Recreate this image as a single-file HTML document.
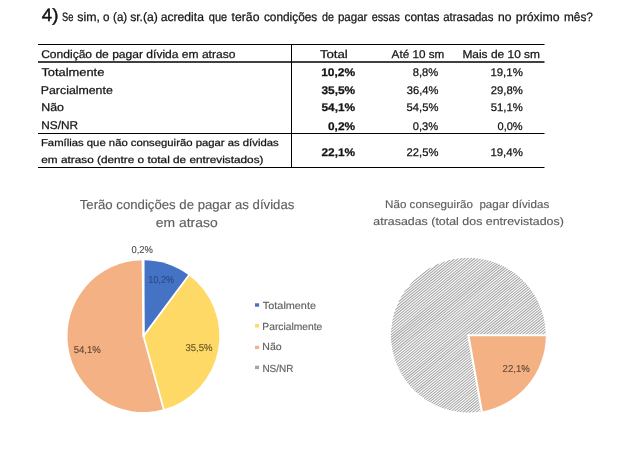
<!DOCTYPE html>
<html><head><meta charset="utf-8"><title>Pesquisa</title>
<style>
html,body{margin:0;padding:0;background:#fff;}
body{width:620px;height:458px;position:relative;overflow:hidden;font-family:"Liberation Sans",sans-serif;}
.t{position:absolute;left:0;top:0;white-space:pre;line-height:1;transform-origin:0 0;text-rendering:geometricPrecision;font-family:"Liberation Sans",sans-serif;-webkit-text-stroke-color:currentColor;}
svg{position:absolute;left:0;top:0;}
.txt{position:absolute;left:0;top:0;width:620px;height:458px;will-change:transform;}
</style></head><body>
<svg width="620" height="458" viewBox="0 0 620 458">

<line x1="38" y1="44.5" x2="544.5" y2="44.5" stroke="#000" stroke-width="1"/>
<line x1="38" y1="62.0" x2="544.5" y2="62.0" stroke="#000" stroke-width="1.5"/>
<line x1="38" y1="133.5" x2="544.5" y2="133.5" stroke="#000" stroke-width="1"/>
<line x1="38" y1="167.5" x2="544.5" y2="167.5" stroke="#000" stroke-width="1"/>
<line x1="291.5" y1="44" x2="291.5" y2="168" stroke="#000" stroke-width="1"/>

<path d="M143.45,336.10 L143.45,260.15 A75.95,75.95 0 0 1 188.86,275.22 Z" fill="#4472C4"/><path d="M143.45,336.10 L188.86,275.22 A75.95,75.95 0 0 1 163.72,409.29 Z" fill="#FFD966"/><path d="M143.45,336.10 L163.72,409.29 A75.95,75.95 0 1 1 142.50,260.16 Z" fill="#F4B183"/><path d="M143.45,336.10 L142.50,260.16 A75.95,75.95 0 0 1 143.45,260.15 Z" fill="#A5A5A5"/><line x1="143.55" y1="336.10" x2="143.55" y2="258.65" stroke="#fff" stroke-width="2.0" stroke-linecap="round"/><line x1="143.55" y1="336.10" x2="142.58" y2="258.66" stroke="#fff" stroke-width="2.0" stroke-linecap="round"/><line x1="143.45" y1="336.10" x2="189.76" y2="274.02" stroke="#fff" stroke-width="1.8" stroke-linecap="round"/><line x1="143.45" y1="336.10" x2="164.12" y2="410.74" stroke="#fff" stroke-width="1.8" stroke-linecap="round"/>
<clipPath id="c2"><path d="M468.35,335.20 L481.81,411.52 A77.50,77.50 0 1 1 545.85,335.20 Z"/></clipPath><path clip-path="url(#c2)" d="M409.2,285.1L431.2,267.2M404.0,292.1L439.0,263.5M400.7,297.4L444.9,261.3M398.3,302.0L449.9,259.9M396.5,306.2L454.4,259.0M395.1,310.0L458.4,258.3M393.9,313.6L462.2,257.9M393.0,317.0L465.7,257.7M392.3,320.3L469.0,257.7M391.8,323.4L472.2,257.8M391.4,326.4L475.2,258.0M391.1,329.3L478.1,258.3M390.9,332.1L480.9,258.7M390.9,334.8L483.6,259.2M390.9,337.5L486.1,259.8M391.0,340.0L488.6,260.4M391.2,342.5L491.1,261.1M391.5,345.0L493.4,261.9M391.8,347.4L495.7,262.7M392.2,349.7L497.9,263.5M392.7,352.0L500.0,264.5M393.2,354.2L502.1,265.4M393.8,356.4L504.1,266.5M394.5,358.6L506.1,267.5M395.2,360.7L508.0,268.6M395.9,362.7L509.9,269.8M396.7,364.8L511.7,271.0M397.6,366.7L513.5,272.2M398.5,368.7L515.2,273.5M399.4,370.6L516.9,274.8M400.4,372.4L518.5,276.1M401.4,374.3L520.1,277.5M402.5,376.1L521.6,278.9M403.6,377.8L523.1,280.4M404.8,379.5L524.6,281.9M406.0,381.2L526.0,283.4M407.3,382.9L527.3,284.9M408.5,384.5L528.7,286.5M409.9,386.1L529.9,288.2M411.3,387.6L531.2,289.8M412.7,389.1L532.4,291.5M414.2,390.6L533.5,293.3M415.7,392.0L534.6,295.0M417.2,393.4L535.7,296.8M418.8,394.8L536.7,298.7M420.5,396.1L537.7,300.5M422.2,397.4L538.6,302.5M423.9,398.7L539.5,304.4M425.7,399.9L540.3,306.4M427.5,401.1L541.1,308.4M429.4,402.2L541.8,310.5M431.3,403.3L542.5,312.6M433.3,404.3L543.1,314.8M435.4,405.3L543.7,317.0M437.5,406.3L544.2,319.3M439.7,407.2L544.6,321.6M441.9,408.0L545.0,323.9M444.2,408.8L545.3,326.3M446.6,409.6L545.6,328.8M449.0,410.2L545.8,331.4M451.5,410.9L545.8,334.0M454.2,411.4L545.8,336.6M456.9,411.8L545.7,339.4M459.7,412.2L545.5,342.2M462.6,412.5L545.2,345.2M465.7,412.7L544.8,348.2M468.9,412.7L544.1,351.4M472.3,412.6L543.4,354.7M475.9,412.3L542.4,358.1M479.8,411.8L541.1,361.8M484.0,411.1L539.6,365.8M488.6,410.0L537.5,370.1M493.9,408.4L534.9,374.9M500.3,405.8L531.1,380.7M510.1,400.5L523.9,389.3" stroke="#a5a5a5" stroke-width="1.04" fill="none"/><path d="M468.35,335.20 L545.85,335.20 A77.50,77.50 0 0 1 481.81,411.52 Z" fill="#F4B183"/><path d="M468.35,335.20 L547.85,335.20 A79.50,79.50 0 0 1 482.16,413.49 Z" fill="none" stroke="#fff" stroke-width="2.1" stroke-linejoin="miter"/>
<rect x="255" y="303.3" width="4.1" height="3.4" fill="#4472C4"/><rect x="255" y="324.1" width="4.1" height="3.4" fill="#FFD966"/><rect x="255" y="345.7" width="4.1" height="3.4" fill="#F4B183"/><rect x="255" y="365.7" width="4.1" height="3.4" fill="#A5A5A5"/>
</svg>
<div class="txt">
<span class="t" style="font-size:17.71px;color:#141414;-webkit-text-stroke-width:0.45px;transform:translate(41.78px,6.75px) scaleX(1.0533)">4)</span>
<span class="t" style="font-size:12.21px;color:#141414;-webkit-text-stroke-width:0.25px;transform:translate(62.01px,10.75px) scaleX(0.7590)">Se </span>
<span class="t" style="font-size:12.21px;color:#141414;-webkit-text-stroke-width:0.25px;transform:translate(77.35px,10.75px) scaleX(1.0122)">sim, </span>
<span class="t" style="font-size:12.21px;color:#141414;-webkit-text-stroke-width:0.25px;transform:translate(102.94px,10.75px) scaleX(0.9577)">o </span>
<span class="t" style="font-size:12.21px;color:#141414;-webkit-text-stroke-width:0.25px;transform:translate(113.05px,10.75px) scaleX(0.9468)">(a) </span>
<span class="t" style="font-size:12.21px;color:#141414;-webkit-text-stroke-width:0.25px;transform:translate(130.15px,10.75px) scaleX(0.9978)">sr.(a) </span>
<span class="t" style="font-size:12.21px;color:#141414;-webkit-text-stroke-width:0.25px;transform:translate(160.72px,10.75px) scaleX(0.9946)">acredita </span>
<span class="t" style="font-size:12.21px;color:#141414;-webkit-text-stroke-width:0.25px;transform:translate(208.76px,10.75px) scaleX(0.9036)">que </span>
<span class="t" style="font-size:12.21px;color:#141414;-webkit-text-stroke-width:0.25px;transform:translate(231.57px,10.75px) scaleX(1.0035)">terão </span>
<span class="t" style="font-size:12.21px;color:#141414;-webkit-text-stroke-width:0.25px;transform:translate(263.94px,10.75px) scaleX(0.9696)">condições </span>
<span class="t" style="font-size:12.21px;color:#141414;-webkit-text-stroke-width:0.25px;transform:translate(322.06px,10.75px) scaleX(0.8798)">de </span>
<span class="t" style="font-size:12.21px;color:#141414;-webkit-text-stroke-width:0.25px;transform:translate(337.91px,10.75px) scaleX(0.9446)">pagar </span>
<span class="t" style="font-size:12.21px;color:#141414;-webkit-text-stroke-width:0.25px;transform:translate(371.66px,10.75px) scaleX(0.8868)">essas </span>
<span class="t" style="font-size:12.21px;color:#141414;-webkit-text-stroke-width:0.25px;transform:translate(404.54px,10.75px) scaleX(0.9730)">contas </span>
<span class="t" style="font-size:12.21px;color:#141414;-webkit-text-stroke-width:0.25px;transform:translate(443.23px,10.75px) scaleX(0.9369)">atrasadas </span>
<span class="t" style="font-size:12.21px;color:#141414;-webkit-text-stroke-width:0.25px;transform:translate(497.97px,10.75px) scaleX(0.9944)">no </span>
<span class="t" style="font-size:12.21px;color:#141414;-webkit-text-stroke-width:0.25px;transform:translate(515.78px,10.75px) scaleX(1.0098)">próximo </span>
<span class="t" style="font-size:12.21px;color:#141414;-webkit-text-stroke-width:0.25px;transform:translate(563.99px,10.75px) scaleX(0.9676)">mês?</span>
<span class="t" style="font-size:11.26px;color:#141414;-webkit-text-stroke-width:0.25px;transform:translate(41.15px,49.75px) scaleX(1.0711)">Condição de pagar dívida em atraso</span>
<span class="t" style="font-size:11.26px;color:#141414;-webkit-text-stroke-width:0.25px;transform:translate(41.39px,67.75px) scaleX(1.1443)">Totalmente</span>
<span class="t" style="font-size:11.26px;color:#141414;-webkit-text-stroke-width:0.25px;transform:translate(40.77px,85.75px) scaleX(1.0967)">Parcialmente</span>
<span class="t" style="font-size:11.26px;color:#141414;-webkit-text-stroke-width:0.25px;transform:translate(41.27px,102.75px) scaleX(1.1024)">Não</span>
<span class="t" style="font-size:11.26px;color:#141414;-webkit-text-stroke-width:0.25px;transform:translate(41.30px,120.75px) scaleX(1.0505)">NS/NR</span>
<span class="t" style="font-size:9.88px;color:#141414;-webkit-text-stroke-width:0.25px;transform:translate(40.93px,138.75px) scaleX(1.1456)">Famílias que não conseguirão pagar as dívidas</span>
<span class="t" style="font-size:9.88px;color:#141414;-webkit-text-stroke-width:0.25px;transform:translate(41.28px,155.75px) scaleX(1.1941)">em atraso (dentre o total de entrevistados)</span>
<span class="t" style="font-size:11.26px;color:#141414;-webkit-text-stroke-width:0.25px;transform:translate(319.88px,49.75px) scaleX(1.1747)">Total</span>
<span class="t" style="font-size:11.26px;color:#141414;-webkit-text-stroke-width:0.25px;transform:translate(391.60px,49.75px) scaleX(1.0400)">Até 10 sm</span>
<span class="t" style="font-size:11.26px;color:#141414;-webkit-text-stroke-width:0.25px;transform:translate(462.39px,49.75px) scaleX(1.0610)">Mais de 10 sm</span>
<span class="t" style="font-size:11.07px;font-weight:700;color:#141414;-webkit-text-stroke-width:0.25px;transform:translate(321.17px,67.75px) scaleX(1.0850)">10,2%</span>
<span class="t" style="font-size:11.07px;font-weight:700;color:#141414;-webkit-text-stroke-width:0.25px;transform:translate(321.47px,85.75px) scaleX(1.0753)">35,5%</span>
<span class="t" style="font-size:11.07px;font-weight:700;color:#141414;-webkit-text-stroke-width:0.25px;transform:translate(321.44px,102.75px) scaleX(1.0762)">54,1%</span>
<span class="t" style="font-size:11.07px;font-weight:700;color:#141414;-webkit-text-stroke-width:0.25px;transform:translate(328.00px,121.75px) scaleX(1.0721)">0,2%</span>
<span class="t" style="font-size:11.07px;font-weight:700;color:#141414;-webkit-text-stroke-width:0.25px;transform:translate(321.48px,147.75px) scaleX(1.0748)">22,1%</span>
<span class="t" style="font-size:11.07px;color:#141414;-webkit-text-stroke-width:0.25px;transform:translate(412.74px,67.75px) scaleX(1.0105)">8,8%</span>
<span class="t" style="font-size:11.07px;color:#141414;-webkit-text-stroke-width:0.25px;transform:translate(406.72px,85.75px) scaleX(1.0089)">36,4%</span>
<span class="t" style="font-size:11.07px;color:#141414;-webkit-text-stroke-width:0.25px;transform:translate(406.57px,102.75px) scaleX(1.0140)">54,5%</span>
<span class="t" style="font-size:11.07px;color:#141414;-webkit-text-stroke-width:0.25px;transform:translate(412.81px,121.75px) scaleX(1.0075)">0,3%</span>
<span class="t" style="font-size:11.07px;color:#141414;-webkit-text-stroke-width:0.25px;transform:translate(406.61px,147.75px) scaleX(1.0127)">22,5%</span>
<span class="t" style="font-size:11.07px;color:#141414;-webkit-text-stroke-width:0.25px;transform:translate(490.42px,67.75px) scaleX(1.0315)">19,1%</span>
<span class="t" style="font-size:11.07px;color:#141414;-webkit-text-stroke-width:0.25px;transform:translate(490.70px,85.75px) scaleX(1.0225)">29,8%</span>
<span class="t" style="font-size:11.07px;color:#141414;-webkit-text-stroke-width:0.25px;transform:translate(490.66px,102.75px) scaleX(1.0238)">51,1%</span>
<span class="t" style="font-size:11.07px;color:#141414;-webkit-text-stroke-width:0.25px;transform:translate(497.52px,121.75px) scaleX(0.9954)">0,0%</span>
<span class="t" style="font-size:11.07px;color:#141414;-webkit-text-stroke-width:0.25px;transform:translate(490.42px,147.75px) scaleX(1.0315)">19,4%</span>
<span class="t" style="font-size:13.08px;color:#5e5e5e;-webkit-text-stroke-width:0.15px;transform:translate(79.73px,197.75px) scaleX(1.0073)">Terão condições de pagar as dívidas</span>
<span class="t" style="font-size:13.08px;color:#5e5e5e;-webkit-text-stroke-width:0.15px;transform:translate(155.80px,215.75px) scaleX(1.0637)">em atraso</span>
<span class="t" style="font-size:11.05px;color:#5e5e5e;-webkit-text-stroke-width:0.15px;transform:translate(385.05px,199.75px) scaleX(1.0523)">Não conseguirão  pagar dívidas</span>
<span class="t" style="font-size:11.05px;color:#5e5e5e;-webkit-text-stroke-width:0.15px;transform:translate(373.27px,216.75px) scaleX(1.1242)">atrasadas (total dos entrevistados)</span>
<span class="t" style="font-size:10.32px;color:#5e5e5e;-webkit-text-stroke-width:0.15px;transform:translate(262.86px,301.75px) scaleX(1.0527)">Totalmente</span>
<span class="t" style="font-size:10.32px;color:#5e5e5e;-webkit-text-stroke-width:0.15px;transform:translate(262.36px,322.75px) scaleX(0.9963)">Parcialmente</span>
<span class="t" style="font-size:10.32px;color:#5e5e5e;-webkit-text-stroke-width:0.15px;transform:translate(262.35px,342.75px) scaleX(1.0232)">Não</span>
<span class="t" style="font-size:10.32px;color:#5e5e5e;-webkit-text-stroke-width:0.15px;transform:translate(262.38px,364.75px) scaleX(0.9673)">NS/NR</span>
<span class="t" style="font-size:10.0px;color:#4a4a4a;-webkit-text-stroke-width:0.1px;transform:translate(131.49px,245.75px) scaleX(0.9403)">0,2%</span>
<span class="t" style="font-size:10.0px;color:#2d4a86;-webkit-text-stroke-width:0.1px;transform:translate(148.21px,275.75px) scaleX(0.9134)">10,2%</span>
<span class="t" style="font-size:10.0px;color:#5e5225;-webkit-text-stroke-width:0.1px;transform:translate(185.48px,343.75px) scaleX(0.9519)">35,5%</span>
<span class="t" style="font-size:10.0px;color:#5f4434;-webkit-text-stroke-width:0.1px;transform:translate(73.64px,345.75px) scaleX(0.9605)">54,1%</span>
<span class="t" style="font-size:10.0px;color:#5f4434;-webkit-text-stroke-width:0.1px;transform:translate(502.60px,364.75px) scaleX(0.9600)">22,1%</span>
</div>
</body></html>
